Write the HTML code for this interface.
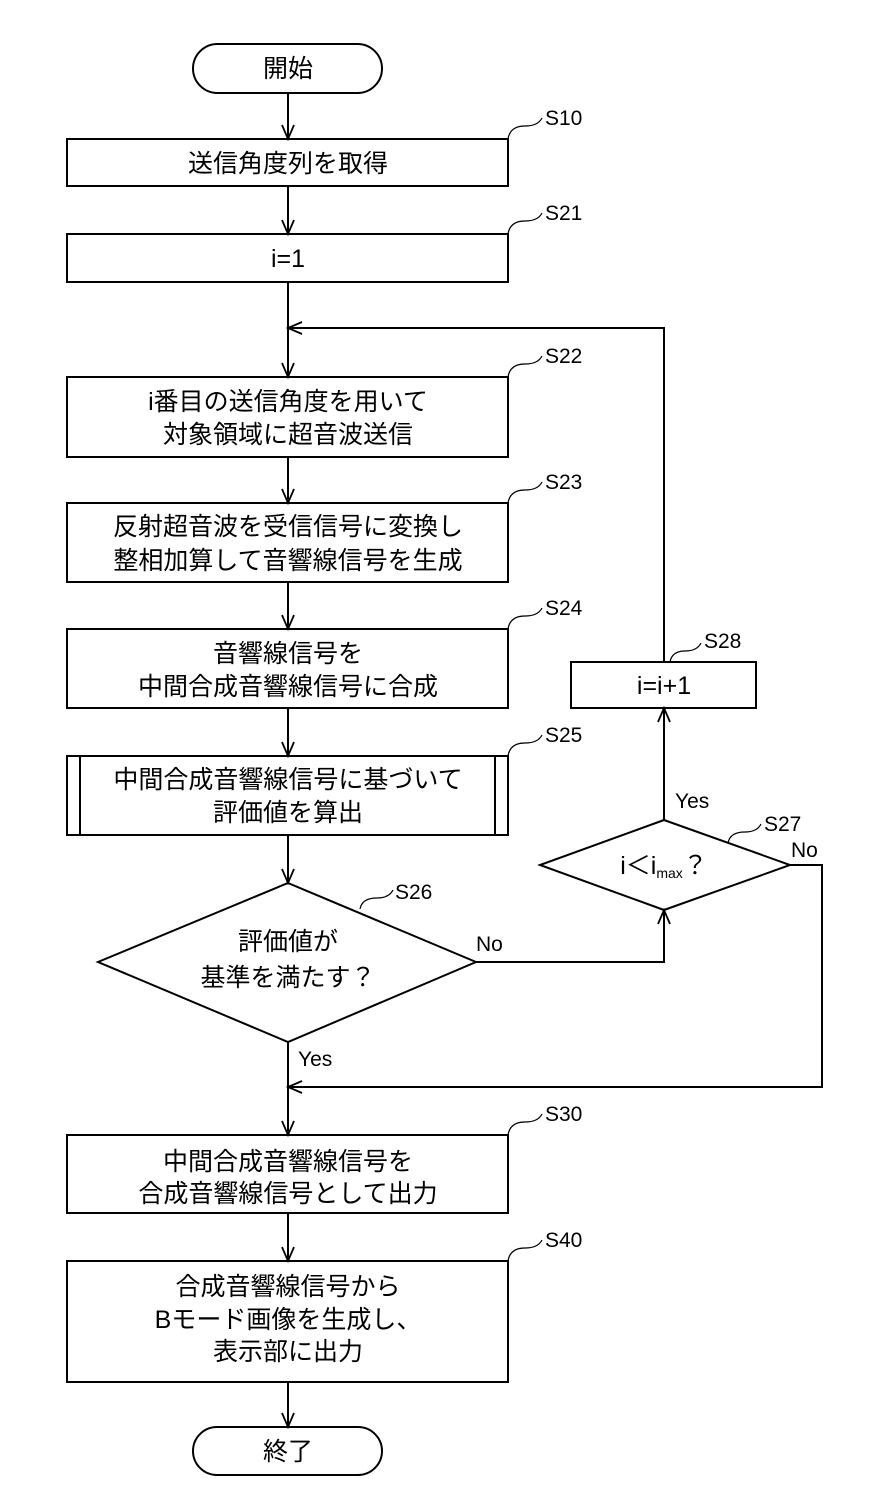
<!DOCTYPE html>
<html><head><meta charset="utf-8"><style>
html,body{margin:0;padding:0;background:#fff}
svg{display:block}
text{font-family:"Liberation Sans","Noto Sans CJK JP",sans-serif;fill:#000}
.t{font-size:25px;text-anchor:middle}
.l{font-size:21px}
</style></head><body>
<svg width="882" height="1512" viewBox="0 0 882 1512" xmlns="http://www.w3.org/2000/svg">
<g fill="none" stroke="#000" stroke-width="2">
<rect x="193" y="44" width="189" height="49" rx="24.5"/>
<rect x="67" y="139" width="441" height="47"/>
<rect x="67" y="234" width="441" height="48"/>
<rect x="67" y="377" width="441" height="80"/>
<rect x="67" y="503" width="441" height="79"/>
<rect x="67" y="629" width="441" height="79"/>
<rect x="67" y="756" width="441" height="79"/>
<line x1="80" y1="756" x2="80" y2="835"/>
<line x1="495" y1="756" x2="495" y2="835"/>
<polygon points="288,883 476,962 288,1042 98,962"/>
<polygon points="664,820 790,865 664,910 540,865"/>
<rect x="571" y="662" width="185" height="46"/>
<rect x="67" y="1135" width="441" height="78"/>
<rect x="67" y="1261" width="441" height="121"/>
<rect x="193" y="1427" width="189" height="48" rx="24"/>
<line x1="288" y1="93" x2="288" y2="139"/>
<line x1="288" y1="186" x2="288" y2="234"/>
<line x1="288" y1="282" x2="288" y2="377"/>
<line x1="288" y1="457" x2="288" y2="503"/>
<line x1="288" y1="582" x2="288" y2="629"/>
<line x1="288" y1="708" x2="288" y2="756"/>
<line x1="288" y1="835" x2="288" y2="883"/>
<line x1="288" y1="1042" x2="288" y2="1135"/>
<line x1="288" y1="1213" x2="288" y2="1261"/>
<line x1="288" y1="1382" x2="288" y2="1427"/>
<polyline points="664,662 664,328 288,328"/>
<polyline points="476,962 664,962 664,910"/>
<line x1="664" y1="820" x2="664" y2="708"/>
<polyline points="790,865 822,865 822,1087 288,1087"/>
<g stroke-width="1.8">
<polyline points="282,125 288,139 294,125"/>
<polyline points="282,220 288,234 294,220"/>
<polyline points="282,363 288,377 294,363"/>
<polyline points="282,489 288,503 294,489"/>
<polyline points="282,615 288,629 294,615"/>
<polyline points="282,742 288,756 294,742"/>
<polyline points="282,869 288,883 294,869"/>
<polyline points="282,1121 288,1135 294,1121"/>
<polyline points="282,1247 288,1261 294,1247"/>
<polyline points="282,1413 288,1427 294,1413"/>
<polyline points="302,322 288,328 302,334"/>
<polyline points="302,1081 288,1087 302,1093"/>
<polyline points="658,924 664,910 670,924"/>
<polyline points="658,722 664,708 670,722"/>
</g>
<g stroke-width="1.2">
<path d="M508,139 Q510,126 525,126 Q538,126 542,118"/>
<path d="M508,234 Q510,221 525,221 Q538,221 542,213"/>
<path d="M508,377 Q510,364 525,364 Q538,364 542,356"/>
<path d="M508,503 Q510,490 525,490 Q538,490 542,482"/>
<path d="M508,629 Q510,616 525,616 Q538,616 542,608"/>
<path d="M508,756 Q510,743 525,743 Q538,743 542,735"/>
<path d="M508,1135 Q510,1122 525,1122 Q538,1122 542,1114"/>
<path d="M508,1261 Q510,1248 525,1248 Q538,1248 542,1240"/>
<path d="M670,662 Q672,651 685,651 Q697,651 701,643"/>
<path d="M728,843 Q730,832 745,832 Q757,832 761,824"/>
<path d="M360,909 Q362,898 377,898 Q389,898 393,890"/>
</g>
</g>
<text class="t" x="288" y="77">開始</text>
<text class="t" x="288" y="172">送信角度列を取得</text>
<text class="t" x="288" y="267">i=1</text>
<text class="t" x="288" y="410">i番目の送信角度を用いて</text>
<text class="t" x="288" y="443">対象領域に超音波送信</text>
<text class="t" x="288" y="535">反射超音波を受信信号に変換し</text>
<text class="t" x="288" y="569">整相加算して音響線信号を生成</text>
<text class="t" x="288" y="662">音響線信号を</text>
<text class="t" x="288" y="695">中間合成音響線信号に合成</text>
<text class="t" x="288" y="788">中間合成音響線信号に基づいて</text>
<text class="t" x="288" y="821">評価値を算出</text>
<text class="t" x="288" y="950">評価値が</text>
<text class="t" x="288" y="986">基準を満たす？</text>
<text class="t" x="664" y="874">i＜i<tspan font-size="14" dy="4">max</tspan><tspan dy="-4">？</tspan></text>
<text class="t" x="664" y="694">i=i+1</text>
<text class="t" x="288" y="1170">中間合成音響線信号を</text>
<text class="t" x="288" y="1202">合成音響線信号として出力</text>
<text class="t" x="288" y="1295">合成音響線信号から</text>
<text class="t" x="288" y="1328">Bモード画像を生成し、</text>
<text class="t" x="288" y="1360">表示部に出力</text>
<text class="t" x="288" y="1460">終了</text>
<text class="l" x="545" y="125">S10</text>
<text class="l" x="545" y="220">S21</text>
<text class="l" x="545" y="363">S22</text>
<text class="l" x="545" y="489">S23</text>
<text class="l" x="545" y="615">S24</text>
<text class="l" x="545" y="742">S25</text>
<text class="l" x="395" y="899">S26</text>
<text class="l" x="764" y="831">S27</text>
<text class="l" x="704" y="648">S28</text>
<text class="l" x="545" y="1121">S30</text>
<text class="l" x="545" y="1247">S40</text>
<text class="l" x="476" y="951">No</text>
<text class="l" x="675" y="808">Yes</text>
<text class="l" x="791" y="857">No</text>
<text class="l" x="298" y="1066">Yes</text>
</svg>
</body></html>
